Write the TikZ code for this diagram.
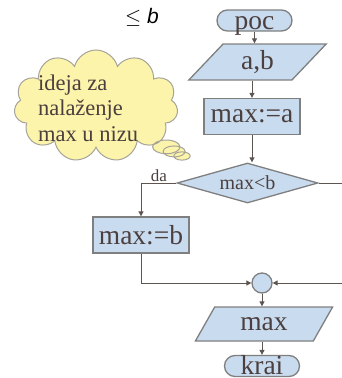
\documentclass[tikz,border=0pt]{standalone}
\usepackage{fontspec}
\setmainfont{Liberation Serif}
\newfontfamily\simbolfont{Liberation Sans}
\usetikzlibrary{shapes.geometric,shapes.misc,shapes.callouts,shapes.symbols,arrows.meta,positioning,calc}
\definecolor{blokPlava}{HTML}{C9DCEF}
\definecolor{blokRub}{HTML}{7F7F7F}
\definecolor{blokTekst}{HTML}{4B3F3F}
\definecolor{tokLinija}{HTML}{5E5550}
\definecolor{oblakZuta}{HTML}{FBF4AA}
\definecolor{oblakRub}{HTML}{A6A39A}

\begin{document}
\begin{tikzpicture}[x=1pt,y=-1pt,
  blok/.style={draw=blokRub,line width=1.3pt,fill=blokPlava,text=blokTekst,
    font=\fontsize{27.5}{30}\selectfont,inner sep=0pt},
  naredba/.style={blok,rectangle,minimum width=96pt,minimum height=36pt},
  ulazizlaz/.style={blok,trapezium,trapezium left angle=55,trapezium right angle=125,
    trapezium stretches=true,minimum width=138pt,minimum height=36pt},
  terminal/.style={blok,rectangle,rounded corners=10.5pt,minimum width=75pt,
    minimum height=21pt,text height=17pt,text depth=0pt},
  uvjet/.style={blok,diamond,aspect=3.5,minimum width=141pt,minimum height=40pt,
    font=\fontsize{20}{22}\selectfont},
  spoj/.style={blok,circle,minimum size=20pt},
  tok/.style={draw=tokLinija,line width=1pt,-{Triangle[length=5pt,width=5pt]}},
  oblak/.style={cloud callout,cloud puffs=11,aspect=1.5,draw=oblakRub,line width=1pt,
    fill=oblakZuta,minimum width=164pt,minimum height=112pt,callout pointer segments=3}]
  \useasboundingbox (0,0) rectangle (342,378);
  \clip (0,0) rectangle (342,378);

  % oblak s idejom
  \node[oblak,callout absolute pointer={(182,156)}] (oblak) at (96,106) {};
  \node[align=left,text=blokTekst,font=\fontsize{22.5}{25.5}\selectfont] (ideja) at (88,108)
    {ideja za\\nalaženje\\max u nizu};
  \node[font=\simbolfont\fontsize{21}{24}\selectfont] (granica) at (142,17)
    {$\leq$ {\itshape b}};

  % blokovi
  \node[terminal] (poc) at (254.5,20.5) {poc};
  \node[ulazizlaz] (ab) at (257.5,62) {a,b};
  \node[naredba] (maxa) at (252,116.5) {max:=a};
  \node[uvjet] (cond) at (247.5,183) {max<b};
  \node[naredba] (maxb) at (141,235) {max:=b};
  \node[spoj] (spoj) at (262,283) {};
  \node[ulazizlaz,minimum height=34pt] (ispis) at (264,324) {max};
  \node[terminal,text height=16pt] (krai) at (262,366) {krai};
  \node[text=blokTekst,font=\fontsize{17}{20}\selectfont] (da) at (159,176) {da};

  % tok
  \draw[tok] (poc.south) -- (poc.south |- ab.north);
  \draw[tok] (ab.south -| maxa) -- (maxa.north);
  \draw[tok] (maxa.south) -- (maxa.south |- cond.north);
  \draw[tok] (cond.west) -| (maxb.north);
  \draw[tok] (maxb.south) |- (spoj.west);
  \coordinate (desno) at (352,183);
  \draw[tok] (cond.east) -- (desno) |- (spoj.east);
  \draw[tok] (spoj.south) -- (spoj.south |- ispis.north);
  \draw[tok] (ispis.south -| spoj) -- (spoj |- krai.north);
\end{tikzpicture}
\end{document}
